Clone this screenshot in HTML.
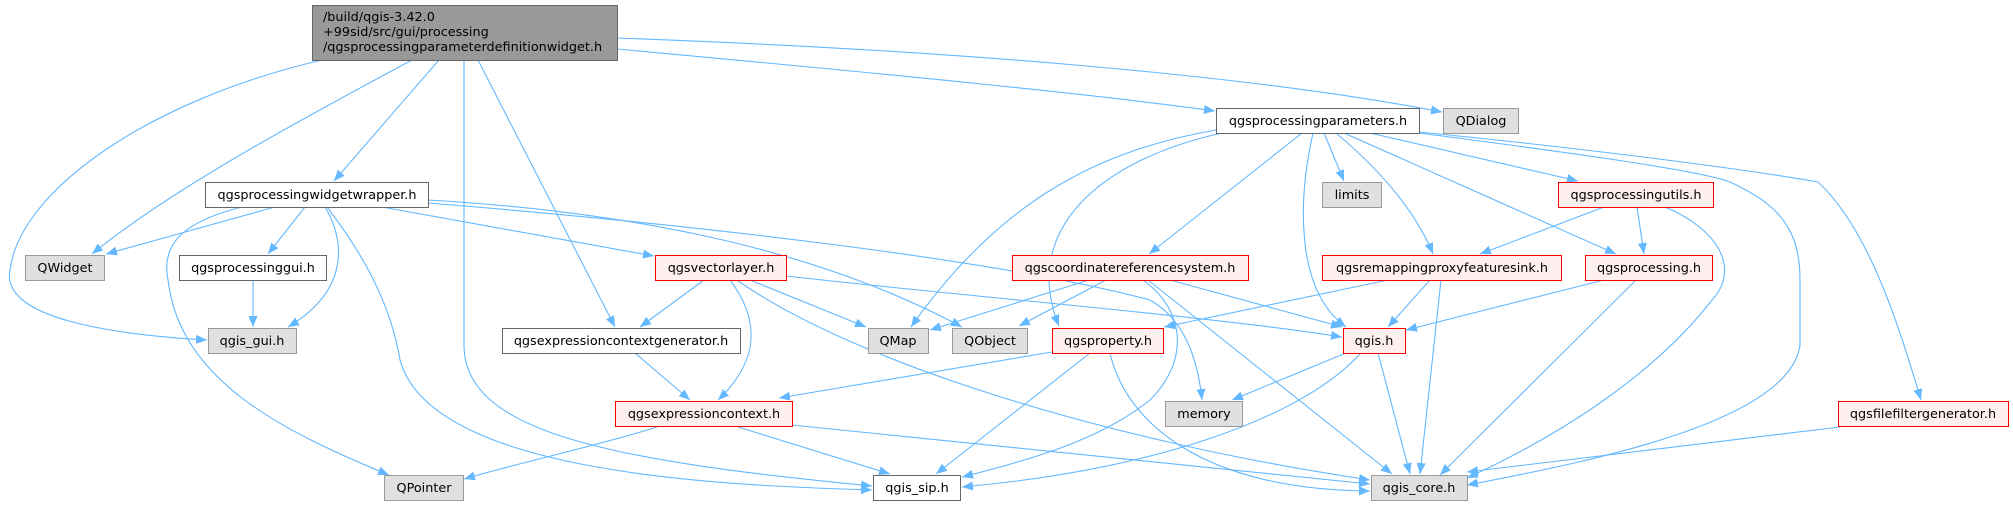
<!DOCTYPE html>
<html><head><meta charset="utf-8"><style>
html,body{margin:0;padding:0;background:#fff;}
svg{display:block;}
text{font-family:"DejaVu Sans","Liberation Sans",sans-serif;font-size:12.8px;fill:#000;}
.e{fill:none;stroke:#63b8ff;stroke-width:1.1;marker-end:url(#a);}
.g{fill:#e0e0e0;stroke:#999;stroke-width:1;}
.w{fill:#fff;stroke:#666;stroke-width:1;}
.r{fill:#fff0f0;stroke:#f00;stroke-width:1;}
.m{fill:#999;stroke:#666;stroke-width:1;}
</style></head><body>
<svg width="2013" height="505" viewBox="0 0 2013 505" xmlns="http://www.w3.org/2000/svg">
<defs><marker id="a" markerUnits="userSpaceOnUse" markerWidth="12" markerHeight="10" refX="11" refY="4.5" orient="auto"><path d="M0,0 L11,4.5 L0,9 z" fill="#63b8ff"/></marker></defs>
<!-- edges -->
<path class="e" d="M322,60 C150,100 20,190 10,270 C0,320 120,335 207,340"/>
<path class="e" d="M412,60 C300,120 170,190 92,254"/>
<path class="e" d="M439,60 L334,181"/>
<path class="e" d="M464,60 L464,345 C464,430 600,460 872,486"/>
<path class="e" d="M478,60 L615,327"/>
<path class="e" d="M617,49 C900,75 1100,95 1215,111"/>
<path class="e" d="M617,38 C950,50 1250,75 1442,112"/>
<path class="e" d="M275,207 L106,254"/>
<path class="e" d="M305,207 L268,254"/>
<path class="e" d="M253,280 L253,327"/>
<path class="e" d="M325,207 C345,240 350,290 288,327"/>
<path class="e" d="M242,207 C190,220 160,240 168,280 C180,380 280,430 389,475"/>
<path class="e" d="M327,207 C360,250 390,300 400,360 C430,470 700,485 872,490"/>
<path class="e" d="M382,207 L654,256"/>
<path class="e" d="M428,200 C600,210 800,240 962,327"/>
<path class="e" d="M428,203 C700,225 1000,260 1150,300 C1185,320 1198,360 1202,400"/>
<path class="e" d="M704,280 L640,327"/>
<path class="e" d="M730,280 C760,320 760,360 718,400"/>
<path class="e" d="M750,280 L866,327"/>
<path class="e" d="M737,280 C850,360 1100,440 1370,480"/>
<path class="e" d="M786,276 C1000,300 1200,315 1342,337"/>
<path class="e" d="M635,353 L690,400"/>
<path class="e" d="M657,427 C600,445 530,460 464,479"/>
<path class="e" d="M738,427 L890,474"/>
<path class="e" d="M792,425 C1000,445 1200,465 1370,484"/>
<path class="e" d="M1052,352 L779,398"/>
<path class="e" d="M1090,353 L936,474"/>
<path class="e" d="M1110,353 C1125,420 1200,490 1370,491"/>
<path class="e" d="M1089,280 L930,330"/>
<path class="e" d="M1106,280 L1019,326"/>
<path class="e" d="M1170,280 L1342,327"/>
<path class="e" d="M1148,280 L1392,474"/>
<path class="e" d="M1143,280 C1185,310 1190,360 1150,400 C1100,440 1030,460 962,477"/>
<path class="e" d="M1361,353 C1300,420 1150,470 962,487"/>
<path class="e" d="M1346,353 L1232,400"/>
<path class="e" d="M1378,353 L1410,474"/>
<path class="e" d="M1388,280 L1164,327"/>
<path class="e" d="M1430,280 L1388,327"/>
<path class="e" d="M1441,280 L1420,474"/>
<path class="e" d="M1604,280 L1406,330"/>
<path class="e" d="M1636,280 L1440,475"/>
<path class="e" d="M1604,207 L1480,254"/>
<path class="e" d="M1637,207 L1644,254"/>
<path class="e" d="M1665,207 C1720,230 1740,270 1712,300 C1650,380 1550,440 1467,478"/>
<path class="e" d="M1216,130 C1100,150 1000,200 911,327"/>
<path class="e" d="M1222,133 C1100,160 1020,230 1059,326"/>
<path class="e" d="M1302,133 L1149,254"/>
<path class="e" d="M1313,133 C1298,200 1295,290 1346,327"/>
<path class="e" d="M1324,133 L1344,181"/>
<path class="e" d="M1336,133 C1380,170 1415,210 1433,254"/>
<path class="e" d="M1344,133 L1616,254"/>
<path class="e" d="M1370,133 L1578,181"/>
<path class="e" d="M1419,133 C1550,150 1700,170 1730,182 C1780,205 1800,230 1800,280 L1800,345 C1790,420 1600,460 1467,485"/>
<path class="e" d="M1419,132 C1600,150 1750,170 1818,182 C1870,230 1900,330 1921,400"/>
<path class="e" d="M1840,427 L1467,472"/>
<!-- nodes -->
<rect class="m" x="312.5" y="5.5" width="305" height="55"/>
<text x="323" y="21">/build/qgis-3.42.0</text>
<text x="323" y="36">+99sid/src/gui/processing</text>
<text x="323" y="51">/qgsprocessingparameterdefinitionwidget.h</text>
<g text-anchor="middle">
<rect class="w" x="205.5" y="182.5" width="223" height="25"/><text x="317" y="199">qgsprocessingwidgetwrapper.h</text>
<rect class="g" x="25.5" y="255.5" width="79" height="25"/><text x="65" y="272">QWidget</text>
<rect class="w" x="179.5" y="255.5" width="147" height="25"/><text x="253" y="272">qgsprocessinggui.h</text>
<rect class="g" x="208.5" y="328.5" width="88" height="25"/><text x="252" y="345">qgis_gui.h</text>
<rect class="g" x="384.5" y="475.5" width="79" height="25"/><text x="424" y="492">QPointer</text>
<rect class="r" x="655.5" y="255.5" width="131" height="25"/><text x="721" y="272">qgsvectorlayer.h</text>
<rect class="w" x="502.5" y="328.5" width="238" height="25"/><text x="621" y="345">qgsexpressioncontextgenerator.h</text>
<rect class="g" x="868.5" y="328.5" width="60" height="25"/><text x="898" y="345">QMap</text>
<rect class="g" x="952.5" y="328.5" width="75" height="25"/><text x="990" y="345">QObject</text>
<rect class="r" x="615.5" y="401.5" width="177" height="25"/><text x="704" y="418">qgsexpressioncontext.h</text>
<rect class="w" x="873.5" y="475.5" width="87" height="25"/><text x="917" y="492">qgis_sip.h</text>
<rect class="w" x="1216.5" y="108.5" width="203" height="25"/><text x="1318" y="125">qgsprocessingparameters.h</text>
<rect class="g" x="1443.5" y="108.5" width="75" height="25"/><text x="1481" y="125">QDialog</text>
<rect class="g" x="1322.5" y="182.5" width="59" height="25"/><text x="1352" y="199">limits</text>
<rect class="r" x="1558.5" y="182.5" width="155" height="25"/><text x="1636" y="199">qgsprocessingutils.h</text>
<rect class="r" x="1012.5" y="255.5" width="236" height="25"/><text x="1130" y="272">qgscoordinatereferencesystem.h</text>
<rect class="r" x="1322.5" y="255.5" width="239" height="25"/><text x="1442" y="272">qgsremappingproxyfeaturesink.h</text>
<rect class="r" x="1585.5" y="255.5" width="127" height="25"/><text x="1649" y="272">qgsprocessing.h</text>
<rect class="r" x="1052.5" y="328.5" width="111" height="25"/><text x="1108" y="345">qgsproperty.h</text>
<rect class="r" x="1343.5" y="328.5" width="62" height="25"/><text x="1374" y="345">qgis.h</text>
<rect class="g" x="1165.5" y="401.5" width="77" height="25"/><text x="1204" y="418">memory</text>
<rect class="g" x="1371.5" y="475.5" width="96" height="25"/><text x="1419" y="492">qgis_core.h</text>
<rect class="r" x="1838.5" y="401.5" width="170" height="25"/><text x="1923" y="418">qgsfilefiltergenerator.h</text>
</g>
</svg>
</body></html>
